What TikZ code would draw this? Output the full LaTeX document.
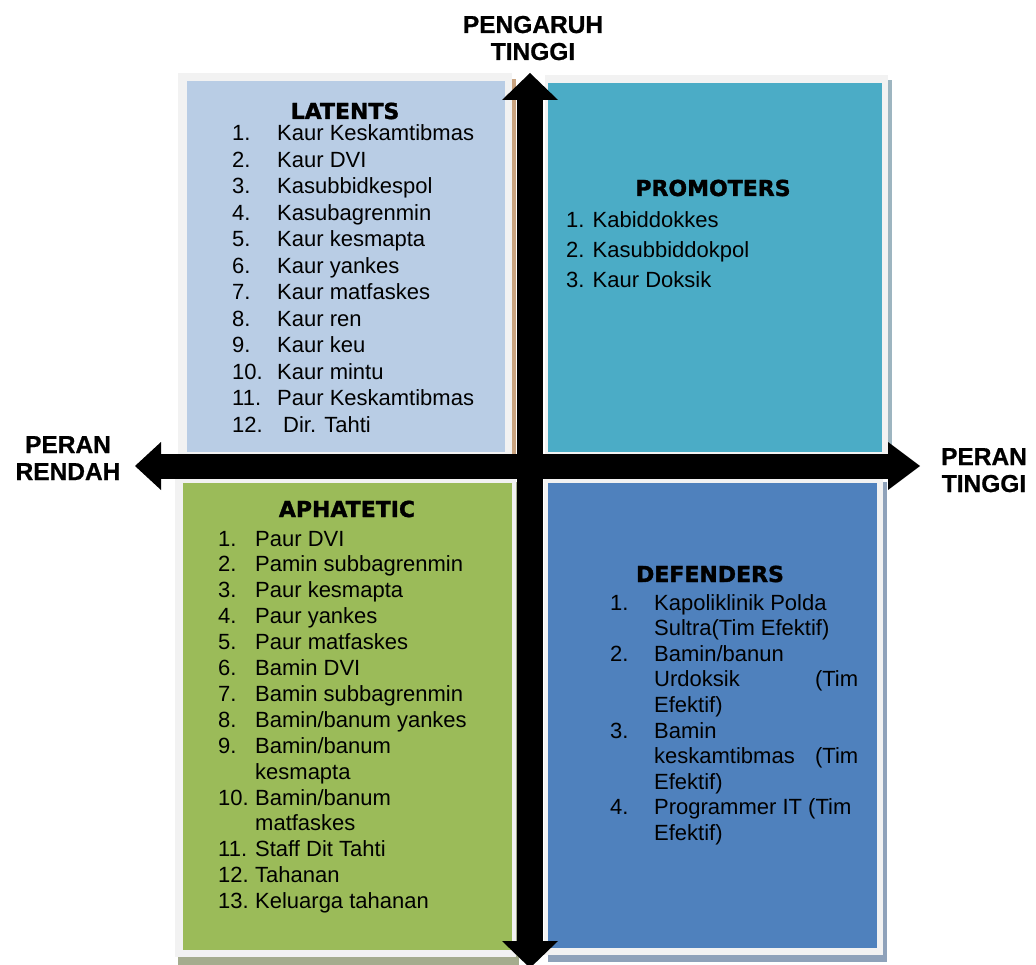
\documentclass[tikz,border=0pt]{standalone}
\usepackage{fontspec}
\setmainfont{Liberation Sans}[BoldFeatures={FakeBold=0.8}]
\newfontfamily\headfont{DejaVu Sans}[BoldFeatures={FakeBold=1.5}]
\usetikzlibrary{arrows.meta}
\definecolor{framegray}{HTML}{F2F2F2}
\definecolor{latentblue}{HTML}{B9CDE5}
\definecolor{latentshadow}{HTML}{C9A37F}
\definecolor{promoteal}{HTML}{4BACC6}
\definecolor{promoshadow}{HTML}{9DB5C0}
\definecolor{aphagreen}{HTML}{9BBB59}
\definecolor{aphashadow}{HTML}{A5AC8E}
\definecolor{defblue}{HTML}{4F81BD}
\definecolor{defshadow}{HTML}{8FA2BA}
\tikzset{
  head/.style={font=\headfont\bfseries\fontsize{22}{26}\selectfont, inner sep=0pt, anchor=base},
  items/.style={font=\fontsize{22}{26.5}\selectfont, inner sep=0pt, anchor=base west},
  axislabel/.style={font=\bfseries\fontsize{24.5}{27}\selectfont, inner sep=0pt, anchor=base},
  vaxis/.style={line width=26pt, {Triangle[length=27pt,width=56pt,line width=0pt]}-{Triangle[length=27pt,width=56pt,line width=0pt]}},
  haxis/.style={line width=25pt, {Triangle[length=26pt,width=48pt,line width=0pt]}-{Triangle[length=32pt,width=48pt,line width=0pt]}}
}
\begin{document}
\begin{tikzpicture}[x=1pt,y=-1pt]
	\useasboundingbox (0,0) rectangle (1036,965);
	\fill[latentshadow] (182,79) rectangle (516,455);
	\fill[framegray] (178,73) rectangle (512,455);
	\fill[latentblue] (187,81) rectangle (505,452);
	\fill[promoshadow] (549,80) rectangle (892,455);
	\fill[framegray] (545,75) rectangle (888,455);
	\fill[promoteal] (548,83) rectangle (882,452);
	\fill[aphashadow] (178,482) rectangle (519,965);
	\fill[framegray] (175,478) rectangle (516,957);
	\fill[aphagreen] (183,483) rectangle (512,950);
	\fill[defshadow] (548,482) rectangle (887,962);
	\fill[framegray] (544,478) rectangle (883,955);
	\fill[defblue] (548,483) rectangle (877,948);
	\coordinate (upTip) at (530,73);
	\coordinate (downTip) at (530,968);
	\coordinate (leftTip) at (135,466);
	\coordinate (rightTip) at (920,466);
	\draw[vaxis] (downTip) -- (upTip);
	\draw[haxis] (leftTip) -- (rightTip);
	\node[axislabel] (pengaruh) at (533,33) {\begin{tabular}[t]{@{}c@{}}PENGARUH\\TINGGI\end{tabular}};
	\node[axislabel] (peranRendah) at (68,453) {\begin{tabular}[t]{@{}c@{}}PERAN\\RENDAH\end{tabular}};
	\node[axislabel] (peranTinggi) at (984,465) {\begin{tabular}[t]{@{}c@{}}PERAN\\TINGGI\end{tabular}};
	\node[head] (latentsTitle) at (345,119) {LATENTS};
	\node[items] (latentsList) at (232,141) {\begin{tabular}[t]{@{}p{45pt}@{}l@{}}
		1. & Kaur Keskamtibmas\\
		2. & Kaur DVI\\
		3. & Kasubbidkespol\\
		4. & Kasubagrenmin\\
		5. & Kaur kesmapta\\
		6. & Kaur yankes\\
		7. & Kaur matfaskes\\
		8. & Kaur ren\\
		9. & Kaur keu\\
		10. & Kaur mintu\\
		11. & Paur Keskamtibmas\\
		12. & \hspace{6pt}Dir. Tahti
	\end{tabular}};
	\node[head] (promotersTitle) at (713,196) {PROMOTERS};
	\node[items, font=\fontsize{22}{30}\selectfont] (promotersList) at (566,228) {\begin{tabular}[t]{@{}l@{}}
		1. Kabiddokkes\\
		2. Kasubbiddokpol\\
		3. Kaur Doksik
	\end{tabular}};
	\node[head] (aphateticTitle) at (347,517) {APHATETIC};
	\node[items, font=\fontsize{22}{25.9}\selectfont] (aphateticList) at (218,546) {\begin{tabular}[t]{@{}p{37pt}@{}l@{}}
		1. & Paur DVI\\
		2. & Pamin subbagrenmin\\
		3. & Paur kesmapta\\
		4. & Paur yankes\\
		5. & Paur matfaskes\\
		6. & Bamin DVI\\
		7. & Bamin subbagrenmin\\
		8. & Bamin/banum yankes\\
		9. & Bamin/banum\\
		& kesmapta\\
		10. & Bamin/banum\\
		& matfaskes\\
		11. & Staff Dit Tahti\\
		12. & Tahanan\\
		13. & Keluarga tahanan
	\end{tabular}};
	\node[head] (defendersTitle) at (710,582) {DEFENDERS};
	\node[items, font=\fontsize{22}{25.6}\selectfont] (defendersList) at (610,610) {\begin{tabular}[t]{@{}p{44pt}@{}l@{}}
		1. & Kapoliklinik Polda\\
		& Sultra(Tim Efektif)\\
		2. & Bamin/banun\\
		& \makebox[204pt][l]{Urdoksik\hfill(Tim}\\
		& Efektif)\\
		3. & Bamin\\
		& \makebox[204pt][l]{keskamtibmas\hfill(Tim}\\
		& Efektif)\\
		4. & Programmer IT (Tim\\
		& Efektif)
	\end{tabular}};
\end{tikzpicture}
\end{document}
